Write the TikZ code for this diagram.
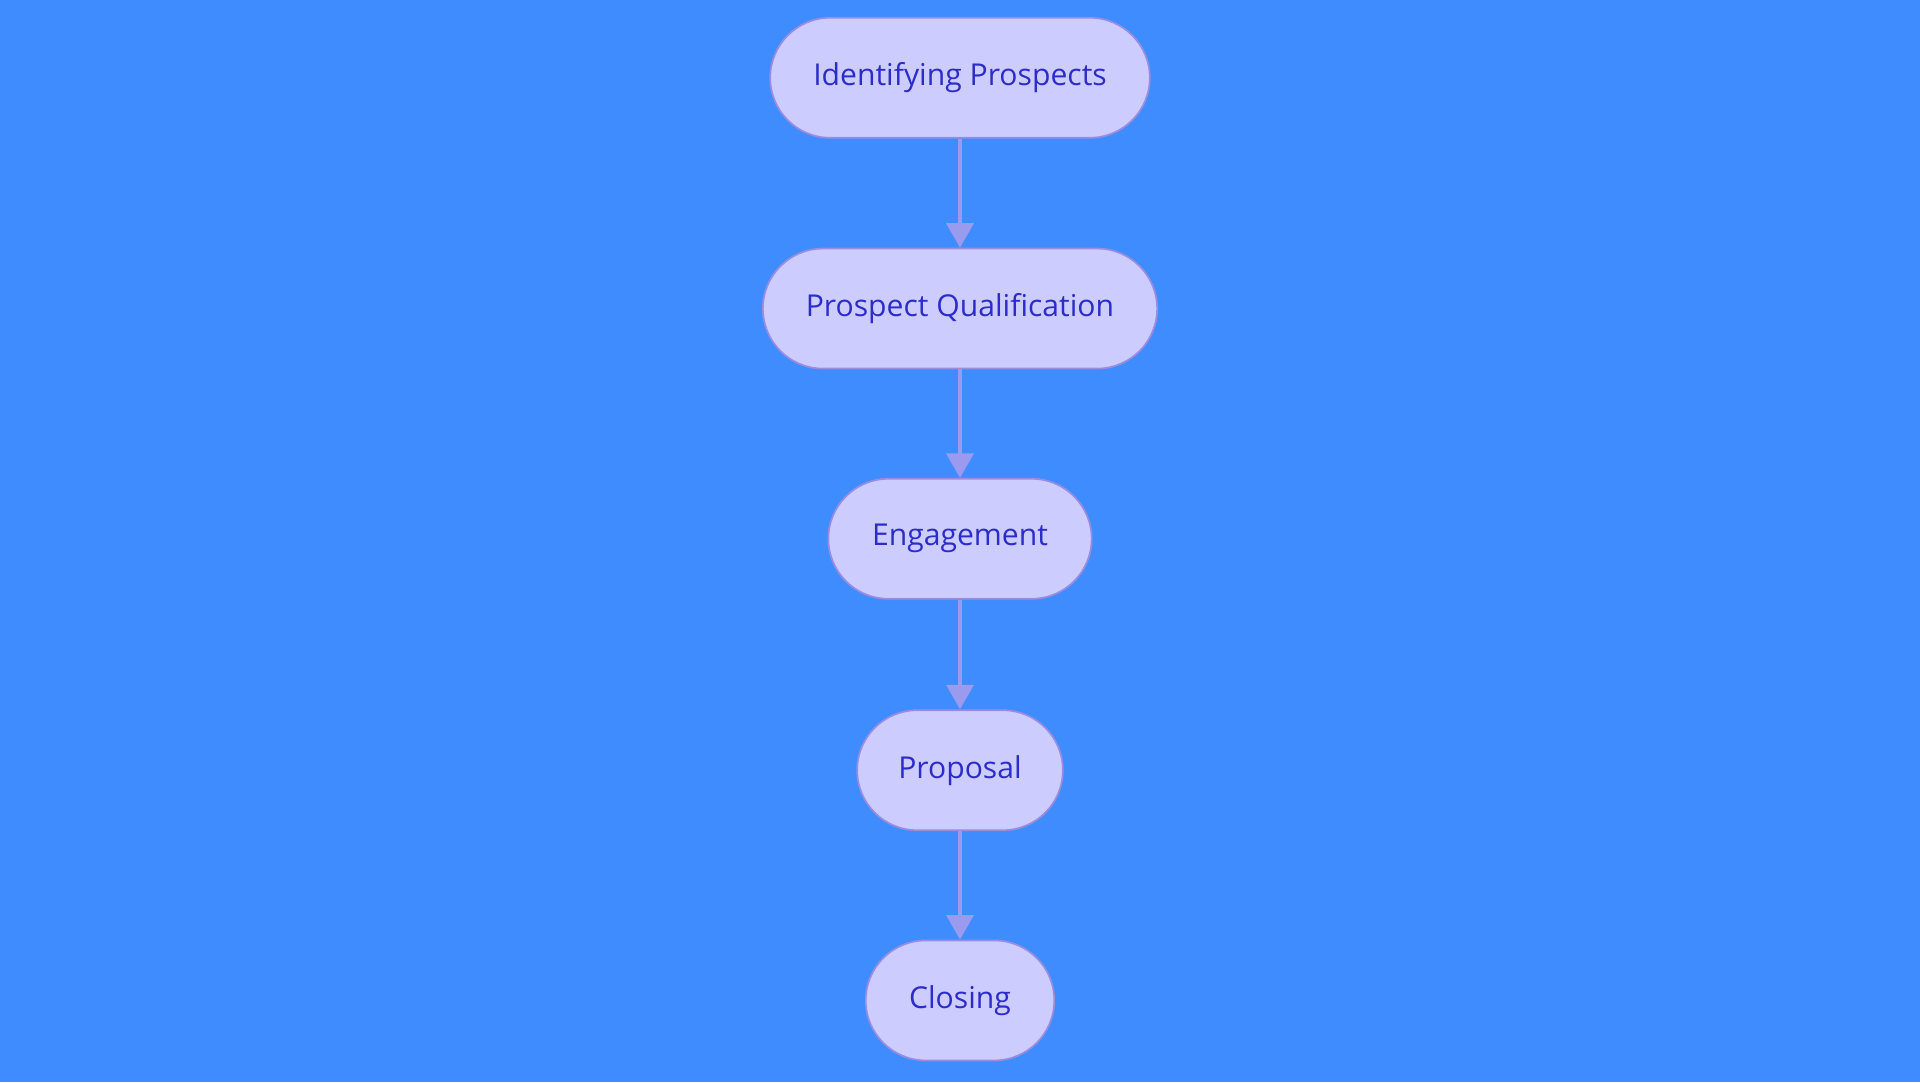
\documentclass[tikz,border=0pt]{standalone}
\usepackage{fontspec}
\setmainfont{Open Sans}
\usetikzlibrary{arrows.meta}
\definecolor{bg}{HTML}{3F8CFF}
\definecolor{nfill}{HTML}{CCCCFF}
\definecolor{nborder}{HTML}{9A8DE0}
\definecolor{ntext}{HTML}{2C2CC8}
\definecolor{arr}{HTML}{9A9AEE}
\begin{document}
\begin{tikzpicture}[x=0.5pt,y=-0.5pt,
  st/.style={draw=nborder,line width=0.7pt,fill=nfill,rounded corners=24.5pt,minimum height=49pt,inner sep=0pt,text=ntext,font=\fontsize{12.3pt}{14pt}\selectfont},
  ar/.style={draw=arr,line width=1.5pt,-{Triangle[length=10pt,width=11pt]}}]
\fill[bg] (0,0) rectangle (1568,884);
\node[st,minimum width=155pt] (a) at (784,63.5) {Identifying Prospects};
\node[st,minimum width=161pt] (b) at (784,252) {Prospect Qualification};
\node[st,minimum width=107.5pt] (c) at (784,440) {Engagement};
\node[st,minimum width=84pt] (d) at (784,629) {Proposal};
\node[st,minimum width=77pt] (e) at (784,817) {Closing};
\draw[ar] (a) -- (b);
\draw[ar] (b) -- (c);
\draw[ar] (c) -- (d);
\draw[ar] (d) -- (e);
\end{tikzpicture}
\end{document}
